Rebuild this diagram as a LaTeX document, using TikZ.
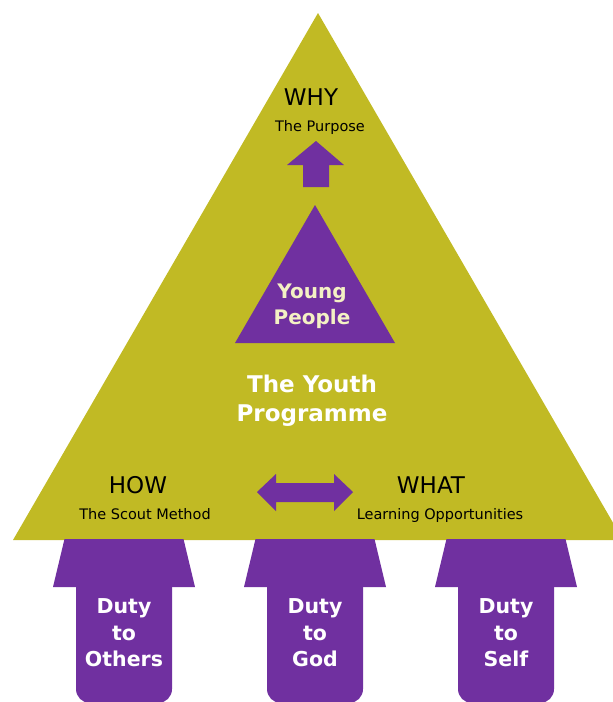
\documentclass[tikz,border=0pt]{standalone}
\usepackage{fontspec}
\setmainfont{DejaVu Sans}
\definecolor{olive}{HTML}{C1BA24}
\definecolor{scoutpurple}{HTML}{7030A0}
\definecolor{cream}{HTML}{F4F1C4}
\tikzset{
  headtext/.style={inner sep=0pt, anchor=base, font=\fontsize{23}{27}\selectfont},
  subtext/.style={inner sep=0pt, anchor=base, font=\fontsize{14.5}{17}\selectfont},
  dutytext/.style={inner sep=0pt, align=center, text=white, font=\bfseries\fontsize{20.5}{26.5}\selectfont},
}
\begin{document}
\begin{tikzpicture}[x=1pt, y=-1pt]
                \useasboundingbox (0,0) rectangle (613,702);
                \clip (0,0) rectangle (613,702);
                % big triangle
                \fill[olive] (318,13) -- (623,540) -- (13,540) -- cycle;
                % young people triangle
                \fill[scoutpurple] (315,205) -- (395,343) -- (235,343) -- cycle;
                % arrow up to why
                \fill[scoutpurple] (316,141) -- (344,165) -- (329,165) -- (329,187) -- (303,187) -- (303,165) -- (287,165) -- cycle;
                % how <-> what
                \fill[scoutpurple] (257,492) -- (276,474) -- (276,483) -- (334,483) -- (334,474) -- (353,492) -- (334,511) -- (334,502) -- (276,502) -- (276,511) -- cycle;
                % duty arrows
                \foreach \cx/\who in {124/Others, 315/God, 506/Self} {
                  \fill[scoutpurple, rounded corners=14pt] (\cx-48,570) rectangle (\cx+48,703);
                  \fill[scoutpurple] (\cx-59.5,539) -- (\cx+59.5,539) -- (\cx+71,587) -- (\cx-71,587) -- cycle;
                  \node[dutytext] (duty\who) at (\cx,633) {Duty\\to\\\who};
                }
                \node[headtext] (why) at (311,105) {WHY};
                \node[subtext] (purpose) at (320,131) {The Purpose};
                \node[inner sep=0pt, align=center, text=cream, font=\bfseries\fontsize{20}{26}\selectfont] (young) at (312,306.5) {Young\\People};
                \node[inner sep=0pt, align=center, text=white, font=\bfseries\fontsize{23}{29}\selectfont] (programme) at (312,401) {The Youth\\Programme};
                \node[headtext] (how) at (138,493) {HOW};
                \node[subtext] (method) at (145,519) {The Scout Method};
                \node[headtext] (what) at (431,493) {WHAT};
                \node[subtext] (learning) at (440,519) {Learning Opportunities};
            \end{tikzpicture}
\end{document}
